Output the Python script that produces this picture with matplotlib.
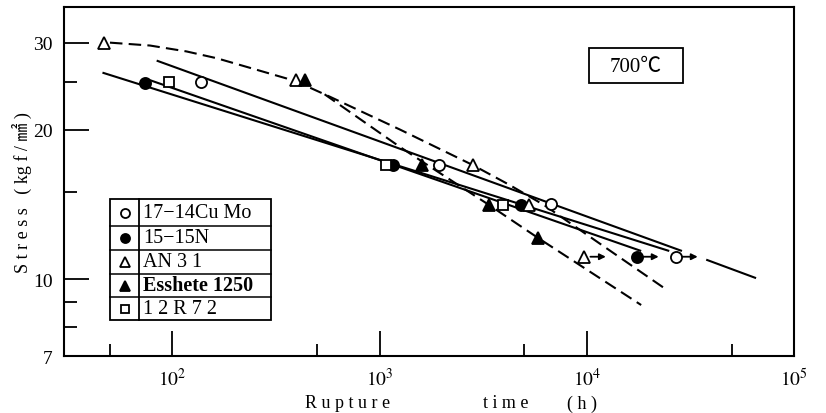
import matplotlib
matplotlib.use("Agg")
import matplotlib.pyplot as plt
import matplotlib.ticker as mticker
import matplotlib.transforms as mtransforms
from matplotlib.patches import Rectangle
from matplotlib.lines import Line2D

plt.rcParams["font.family"] = ["Liberation Serif", "Noto Sans CJK JP"]
plt.rcParams["mathtext.fontset"] = "stix"

W, H = 826, 414

# ---- values: rupture time (h) / stress (kgf/mm2) ----
LABELS = ["17−14Cu Mo", "15−15N", "AN 3 1", "Esshete 1250", "1 2 R 7 2"]
MARKERS = ["o", "o", "^", "^", "s"]
FILLED = [False, True, False, True, False]

cumo_t = [137, 1925, 6745]
cumo_s = [25.0, 17.0, 14.2]
n15_t = [74, 1155, 4830]
n15_s = [24.9, 17.0, 14.1]
an31_t = [47, 394, 2810, 5280]
an31_s = [30.0, 25.2, 17.0, 14.1]
ess_t = [435, 1595, 3390, 5840]
ess_s = [25.2, 17.0, 14.1, 12.1]
r72_t = [96, 1070, 3960]
r72_s = [25.0, 17.0, 14.1]

# specimens still running (drawn with an arrow): CuMo, 15-15N, AN31
run_t = [27000, 17500, 9730]
run_s = [11.1, 11.1, 11.1]
run_mk = ["o", "o", "^"]
run_fill = [False, True, False]

# master curves
cumo_fit_t = [84, 28800]
cumo_fit_s = [27.6, 11.4]
cumo_ext_t = [37700, 65600]
cumo_ext_s = [10.95, 10.05]
n15_fit_t = [46, 25000]
n15_fit_s = [26.1, 11.4]
r72_fit_t = [78, 18300]
r72_fit_s = [25.2, 11.4]
an31_fit_t = [50, 78, 117, 164, 236, 356, 460, 574, 1250, 2810, 4230, 6240, 9200, 23600]
an31_fit_s = [30.0, 29.6, 28.8, 27.9, 26.7, 25.4, 24.35, 23.35, 20.05, 17.0, 15.5, 14.1, 12.6, 9.6]
ess_fit_t = [543, 1250, 1595, 3390, 5840, 18300]
ess_fit_s = [23.6, 18.5, 17.3, 14.1, 12.1, 8.87]

XMAJOR = [1e2, 1e3, 1e4, 1e5]
XMAJOR_LBL = ["$10^{2}$", "$10^{3}$", "$10^{4}$", "$10^{5}$"]
XMINOR = [50, 500, 5000, 50000]
YMAJOR = [7, 10, 20, 30]
YMAJOR_LBL = ["7", "10", "20", "30"]
YMINOR = [8, 9, 15, 25]

fig = plt.figure(figsize=(W / 100, H / 100), dpi=100)
ax = fig.add_axes([64 / W, 1 - 357 / H, 730 / W, 349 / H])
ax.set_xscale("log")
ax.set_yscale("log")
ax.set_xlim(30, 1e5)
ax.set_ylim(7, 35.4)

# pixel-space transform for the hand-drawn legend / boxes
pxT = mtransforms.Affine2D().scale(1 / W, -1 / H).translate(0, 1) + fig.transFigure

LW = 1.5
solid = dict(color="k", lw=LW, solid_capstyle="butt", zorder=2)
dash = dict(color="k", lw=LW, ls=(0, (6, 3)), zorder=2)

ax.plot(cumo_fit_t, cumo_fit_s, **solid)
ax.plot(cumo_ext_t, cumo_ext_s, **solid)
ax.plot(n15_fit_t, n15_fit_s, **solid)
ax.plot(r72_fit_t, r72_fit_s, **solid)
ax.plot(an31_fit_t, an31_fit_s, **dash)
ax.plot(ess_fit_t, ess_fit_s, **dash)

def pts(t, s, mk, filled, ms=8):
    ax.plot(t, s, ls="none", marker=mk, ms=ms, mfc="k" if filled else "white",
            mec="k", mew=1.3, zorder=3)

pts(cumo_t, cumo_s, "o", False)
pts(n15_t, n15_s, "o", True)
pts(an31_t, an31_s, "^", False)
pts(ess_t, ess_s, "^", True)
pts(r72_t, r72_s, "s", False, ms=7.5)

for t, s, mk, f in zip(run_t, run_s, run_mk, run_fill):
    pts([t], [s], mk, f)
    ax.annotate("", xy=(t * 1.27, s), xytext=(t * 1.07, s),
                arrowprops=dict(arrowstyle="-|>", color="k", lw=1.3,
                                mutation_scale=9, shrinkA=0, shrinkB=0))

# axes styling
for sp in ax.spines.values():
    sp.set_linewidth(1.5)
ax.xaxis.set_major_locator(mticker.FixedLocator(XMAJOR))
ax.xaxis.set_major_formatter(mticker.FixedFormatter(XMAJOR_LBL))
ax.xaxis.set_minor_locator(mticker.FixedLocator(XMINOR))
ax.xaxis.set_minor_formatter(mticker.NullFormatter())
ax.yaxis.set_major_locator(mticker.FixedLocator(YMAJOR))
ax.yaxis.set_major_formatter(mticker.FixedFormatter(YMAJOR_LBL))
ax.yaxis.set_minor_locator(mticker.FixedLocator(YMINOR))
ax.yaxis.set_minor_formatter(mticker.NullFormatter())
ax.tick_params(which="major", direction="in", length=18, width=1.3, labelsize=14, pad=8)
ax.tick_params(which="minor", direction="in", length=9, width=1.3)

# axis titles
fs = 13
fig.text(22, 193, "S t r e s s   ( kg f / ㎟ )", rotation=90, ha="center", va="center",
         fontsize=fs, transform=pxT)
fig.text(348, 404, "R u p t u r e", ha="center", va="center", fontsize=fs, transform=pxT)
fig.text(506, 404, "t i m e", ha="center", va="center", fontsize=fs, transform=pxT)
fig.text(582, 404, "( h )", ha="center", va="center", fontsize=fs, transform=pxT)

# temperature box
fig.add_artist(Rectangle((589, 49), 94, 35, transform=pxT, fill=False, lw=1.3, ec="k"))
fig.text(636, 67, "700℃", ha="center", va="center", fontsize=15, transform=pxT)

# legend table
rows = [200, 227, 251, 275, 298, 321]
x0, xd, x1 = 110, 139, 271
fig.add_artist(Rectangle((x0, rows[0]), x1 - x0, rows[-1] - rows[0], transform=pxT,
                         fc="white", ec="k", lw=1.3, zorder=4))
fig.add_artist(Line2D([xd, xd], [rows[0], rows[-1]], transform=pxT, color="k", lw=1.3, zorder=5))
for yy in rows[1:-1]:
    fig.add_artist(Line2D([x0, x1], [yy, yy], transform=pxT, color="k", lw=1.1, zorder=5))
for i, (lab, mk, f) in enumerate(zip(LABELS, MARKERS, FILLED)):
    yc = (rows[i] + rows[i + 1]) / 2
    fig.add_artist(Line2D([124.5], [yc], transform=pxT, ls="none", marker=mk,
                          ms=6.5 if mk != "s" else 6, mfc="k" if f else "white",
                          mec="k", mew=1.3, zorder=6))
    fig.text(143, yc, lab, ha="left", va="center", fontsize=14.5, transform=pxT,
             fontweight="bold" if lab.startswith("Esshete") else "normal", zorder=6)

fig.savefig("out.png", dpi=100)
